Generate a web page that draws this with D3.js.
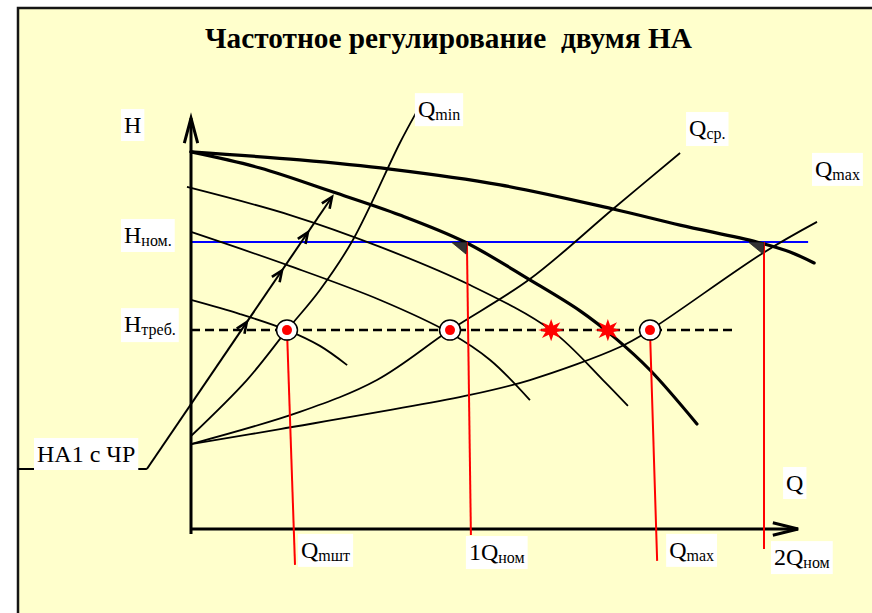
<!DOCTYPE html>
<html><head><meta charset="utf-8">
<script src="https://cdn.jsdelivr.net/npm/d3@7"></script>
<style>body{margin:0;background:#fff}svg{display:block}text{white-space:pre}</style>
</head><body>
<svg id="c" width="872" height="613"></svg>
<script>
// ---------- data (Q in units of Qном, H in units of Hном) ----------
const titleText = "Частотное регулирование  двумя НА";
const hNom = 1.0;
const hTreb = 0.693;
const pumpTwo  = [[0,1.314],[0.380,1.286],[0.695,1.254],[1.079,1.199],[1.473,1.115],[1.707,1.059],[1.975,1.000],[2.091,0.965],[2.175,0.927]];
const pumpOne  = [[0,1.314],[0.241,1.258],[0.496,1.174],[0.729,1.094],[0.956,1.000],[1.183,0.868],[1.358,0.760],[1.480,0.666],[1.602,0.554],[1.766,0.366]];
const pumpSlowA = [[-0.014,1.192],[0.346,1.094],[0.660,0.983],[0.974,0.850],[1.257,0.693],[1.438,0.519],[1.525,0.429]];
const pumpSlowB = [[0,1.035],[0.346,0.916],[0.660,0.798],[0.904,0.683],[1.044,0.589],[1.183,0.449]];
const pumpSlowC = [[0,0.798],[0.171,0.749],[0.335,0.693],[0.450,0.638],[0.545,0.571]];
const sysMin = [[0,0.324],[0.195,0.519],[0.335,0.693],[0.450,0.833],[0.565,1.007],[0.729,1.345],[0.785,1.449]];
const sysMid = [[0,0.296],[0.380,0.408],[0.649,0.519],[0.904,0.693],[1.183,0.871],[1.473,1.115],[1.707,1.310]];
const sysMax = [[0,0.296],[0.311,0.348],[0.974,0.467],[1.183,0.519],[1.497,0.634],[1.602,0.693],[1.997,0.962],[2.185,1.070]];
const regLine = [[-0.154,0.209],[0.492,1.157]];
const regArrowsAt = [0.54,0.73,0.87,1.0];
const leaderStartQ = -0.606;
const workPointsQ = [0.335,0.904,1.602];
const starPointsQ = [1.257,1.455];
const nomPoints = [[0.963,1.0],[2.0,1.0]];
const dropLines = [
  {top:[0.335,0.693], bottom:[0.363,-0.125]},
  {top:[0.963,1.0],   bottom:[0.977,-0.021]},
  {top:[1.602,0.693], bottom:[1.627,-0.111]},
  {top:[2.0,1.0],     bottom:[2.0,-0.070]}
];
const hNomLineEndQ = 2.154;
const hTrebLineEndQ = 1.902;
const qAxisEnd = 2.119;
const hAxisEnd = 1.432;
const hAxisStart = -0.017;
const yLabels = [["H",""],["H","ном."],["H","треб."]];
const sysLabels = [["Q","min"],["Q","ср."],["Q","max"]];
const bottomLabels = [["","Q","mшт"],["1","Q","ном"],["","Q","max"],["2","Q","ном"]];
const axisLabelQ = "Q";
const regLabel = "НА1 с ЧР";

// ---------- scales ----------
const svg = d3.select("#c");
const x = d3.scaleLinear().domain([0,2]).range([191,764]);
const y = d3.scaleLinear().domain([0,1]).range([529,242]);
const line = d3.line().x(d=>x(d[0])).y(d=>y(d[1])).curve(d3.curveCatmullRom.alpha(0.5));

// frame
svg.append("rect").attr("x",18).attr("y",8).attr("width",880).attr("height",640)
  .attr("fill","#FFFFCC").attr("stroke","#151515").attr("stroke-width",2.5);

// title
svg.append("text").attr("x",448.5).attr("y",48).attr("text-anchor","middle")
  .attr("font-family","'Liberation Serif','Times New Roman',serif").attr("font-weight","bold")
  .attr("font-size",30).attr("textLength",487).attr("lengthAdjust","spacingAndGlyphs")
  .attr("fill","#000").text(titleText);

const g = svg.append("g");

// reference lines
g.append("line").attr("x1",x(0)).attr("x2",x(hNomLineEndQ)).attr("y1",y(hNom)).attr("y2",y(hNom))
  .attr("stroke","#0000FF").attr("stroke-width",2);
g.append("line").attr("x1",x(0)).attr("x2",x(hTrebLineEndQ)).attr("y1",y(hTreb)).attr("y2",y(hTreb))
  .attr("stroke","#000").attr("stroke-width",2.5).attr("stroke-dasharray","9,5");

// curves
const thin = [pumpSlowA,pumpSlowB,pumpSlowC,sysMin,sysMid,sysMax];
thin.forEach(d=>g.append("path").attr("d",line(d)).attr("fill","none").attr("stroke","#000").attr("stroke-width",1.8));
[pumpTwo,pumpOne].forEach(d=>g.append("path").attr("d",line(d)).attr("fill","none").attr("stroke","#000").attr("stroke-width",3.2).attr("stroke-linecap","round"));

// axes
g.append("line").attr("x1",x(0)).attr("x2",x(0)).attr("y1",y(hAxisStart)).attr("y2",y(hAxisEnd))
  .attr("stroke","#000").attr("stroke-width",3);
g.append("line").attr("x1",x(0)).attr("x2",x(qAxisEnd)).attr("y1",y(0)).attr("y2",y(0))
  .attr("stroke","#000").attr("stroke-width",3);
function chevron(tx,ty,ang,len,spread,w){
  const a1=ang+Math.PI-spread, a2=ang+Math.PI+spread;
  g.append("path").attr("d",`M${tx+len*Math.cos(a1)},${ty+len*Math.sin(a1)}L${tx},${ty}L${tx+len*Math.cos(a2)},${ty+len*Math.sin(a2)}`)
   .attr("fill","none").attr("stroke","#000").attr("stroke-width",w).attr("stroke-linejoin","miter");
}
chevron(x(0),y(hAxisEnd),-Math.PI/2,26,0.26,3);
chevron(x(qAxisEnd),y(0),0,26,0.24,3);

// regulation line with arrows + leader
const r0=[x(regLine[0][0]),y(regLine[0][1])], r1=[x(regLine[1][0]),y(regLine[1][1])];
g.append("line").attr("x1",x(leaderStartQ)).attr("x2",r0[0]).attr("y1",r0[1]).attr("y2",r0[1]).attr("stroke","#000").attr("stroke-width",1.8);
g.append("line").attr("x1",r0[0]).attr("y1",r0[1]).attr("x2",r1[0]).attr("y2",r1[1]).attr("stroke","#000").attr("stroke-width",2);
const ang=Math.atan2(r1[1]-r0[1],r1[0]-r0[0]);
regArrowsAt.forEach(t=>chevron(r0[0]+t*(r1[0]-r0[0]),r0[1]+t*(r1[1]-r0[1]),ang,12,0.4,2.6));

// red drop lines
dropLines.forEach(d=>g.append("line").attr("x1",x(d.top[0])).attr("y1",y(d.top[1])).attr("x2",x(d.bottom[0])).attr("y2",y(d.bottom[1]))
  .attr("stroke","#FF0000").attr("stroke-width",2));

// triangles at nominal points
nomPoints.forEach(p=>{
  const px=x(p[0]), py=y(p[1]);
  g.append("path").attr("d",`M${px-15},${py+0.5}L${px},${py+0.5}L${px-1},${py+12}Z`).attr("fill","#333").attr("stroke","#222").attr("stroke-width",0.8);
});

// working points
workPointsQ.forEach(q=>{
  g.append("ellipse").attr("cx",x(q)).attr("cy",y(hTreb)).attr("rx",10.5).attr("ry",10).attr("fill","#fff").attr("stroke","#000").attr("stroke-width",1.5);
  g.append("circle").attr("cx",x(q)).attr("cy",y(hTreb)).attr("r",5).attr("fill","#FF0000");
});
// stars
starPointsQ.forEach(q=>{
  const n=8, pts=[];
  for(let i=0;i<2*n;i++){const r=i%2?6:13; const a=i*Math.PI/n - Math.PI/2; pts.push([x(q)+r*Math.cos(a), y(hTreb)+r*0.85*Math.sin(a)]);}
  g.append("path").attr("d","M"+pts.join("L")+"Z").attr("fill","#FF0000");
});

// labels
const FF="'Liberation Serif','Times New Roman',serif";
function label(px,py,pre,main,sub,size,subSize){
  const t=svg.append("text").attr("x",px).attr("y",py).attr("font-family",FF).attr("font-size",size).attr("fill","#000");
  if(pre) t.append("tspan").text(pre);
  t.append("tspan").text(main);
  if(sub) t.append("tspan").attr("font-size",subSize).attr("dy",3).text(sub);
  const b=t.node().getBBox();
  svg.insert("rect",()=>t.node()).attr("x",b.x-3).attr("y",b.y-3).attr("width",b.width+6).attr("height",b.height+6).attr("fill","#fff");
  return t;
}
const MS=24, SS=16;
label(x(0)-67, y(hAxisEnd)+15, "", yLabels[0][0], yLabels[0][1], MS, SS);
label(x(0)-67, y(hNom)+1, "", yLabels[1][0], yLabels[1][1], MS, SS);
label(x(0)-67, y(hTreb)+2, "", yLabels[2][0], yLabels[2][1], MS, SS);
const sysEnds=[sysMin,sysMid,sysMax].map(s=>s[s.length-1]);
label(x(sysEnds[0][0])+2, y(sysEnds[0][1])+4, "", sysLabels[0][0], sysLabels[0][1], MS, SS);
label(x(sysEnds[1][0])+9, y(sysEnds[1][1])-17, "", sysLabels[1][0], sysLabels[1][1], MS, SS);
label(x(sysEnds[2][0])-2, y(sysEnds[2][1])-45, "", sysLabels[2][0], sysLabels[2][1], MS, SS);
const bOff=[[6,-7],[-2,25],[12,-3],[10,16]];
dropLines.forEach((d,i)=>label(x(d.bottom[0])+bOff[i][0], y(d.bottom[1])+bOff[i][1], bottomLabels[i][0], bottomLabels[i][1], bottomLabels[i][2], MS, SS));
label(x(qAxisEnd)-12, y(0)-38, "", axisLabelQ, "", MS, SS);
label(37, r0[1]-7, "", regLabel, "", 24, SS);
</script>
</body></html>
